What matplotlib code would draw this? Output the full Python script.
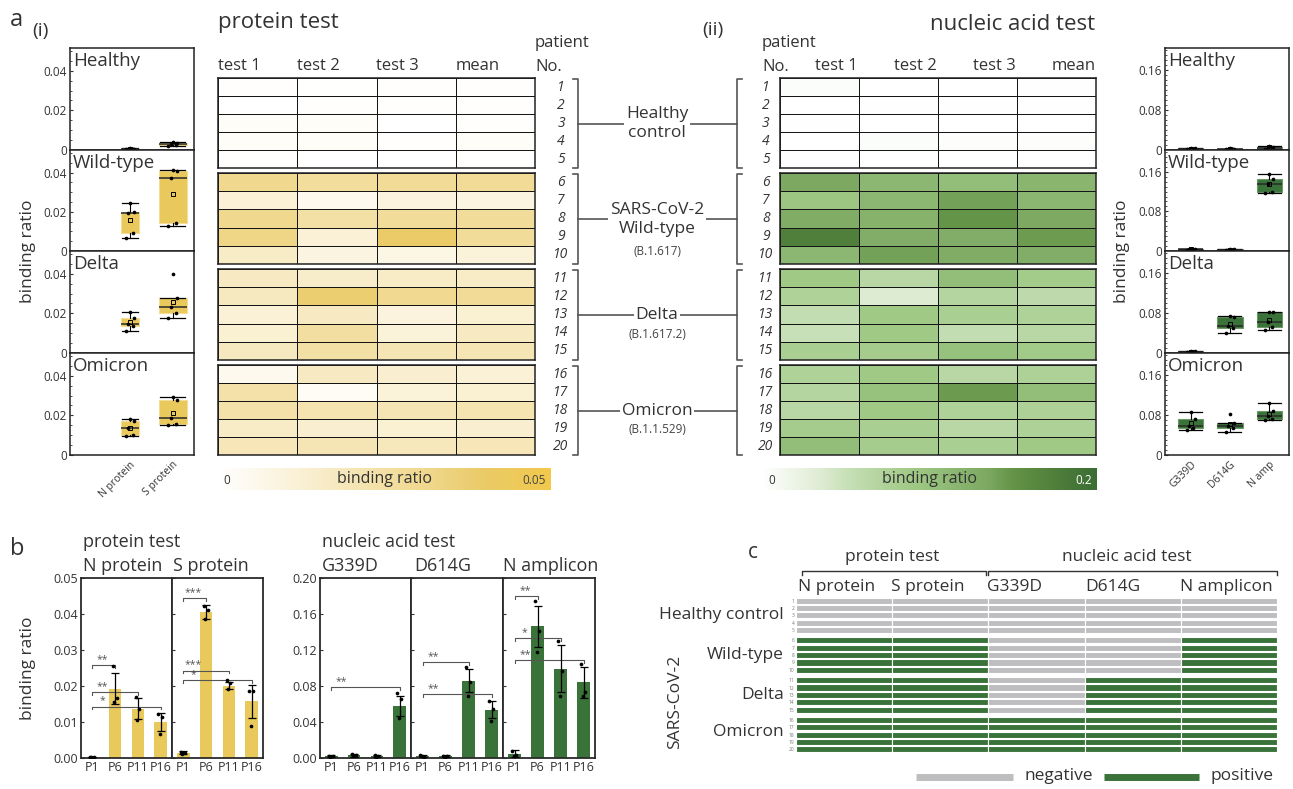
import numpy as np
import matplotlib
matplotlib.use("Agg")
import matplotlib.pyplot as plt
from matplotlib.colors import LinearSegmentedColormap
from matplotlib.ticker import MultipleLocator

plt.rcParams["font.family"] = ["Open Sans", "DejaVu Sans"]
plt.rcParams["text.color"] = "#333333"
plt.rcParams["xtick.color"] = "#333333"
plt.rcParams["ytick.color"] = "#333333"

# ---------------- data ----------------
groups = ["Healthy", "Wild-type", "Delta", "Omicron"]
protein_targets = ["N protein", "S protein"]
nucleic_targets = ["G339D", "D614G", "N amp"]

# a(i) protein test, 5 patients per group
prot_N = [[0.0003, 0.0005, 0.0006, 0.0004, 0.0008],
          [0.0068, 0.0092, 0.0193, 0.0201, 0.0245],
          [0.0110, 0.0138, 0.0146, 0.0176, 0.0208],
          [0.0098, 0.0100, 0.0134, 0.0170, 0.0184]]
prot_S = [[0.0018, 0.0025, 0.0030, 0.0035, 0.0038],
          [0.0125, 0.0142, 0.0372, 0.0410, 0.0413],
          [0.0179, 0.0203, 0.0231, 0.0280, 0.0400],
          [0.0151, 0.0155, 0.0185, 0.0279, 0.0295]]
# a(ii) nucleic acid test
nuc_G339D = [[0.002, 0.0025, 0.003, 0.0035, 0.004],
             [0.002, 0.003, 0.0035, 0.004, 0.005],
             [0.002, 0.0025, 0.003, 0.0035, 0.004],
             [0.050, 0.054, 0.058, 0.073, 0.087]]
nuc_D614G = [[0.002, 0.0025, 0.003, 0.003, 0.004],
             [0.002, 0.0025, 0.003, 0.0035, 0.004],
             [0.040, 0.050, 0.054, 0.072, 0.075],
             [0.047, 0.055, 0.058, 0.064, 0.083]]
nuc_Namp = [[0.003, 0.004, 0.005, 0.006, 0.008],
            [0.118, 0.120, 0.135, 0.146, 0.156],
            [0.046, 0.053, 0.063, 0.082, 0.082],
            [0.071, 0.073, 0.079, 0.088, 0.104]]

heat_cols = ["test 1", "test 2", "test 3", "mean"]
patients = list(range(1, 21))
protein_heat = [
    [0.001, 0.0005, 0.001, 0.001], [0.0, 0.001, 0.001, 0.001],
    [0.002, 0.002, 0.0, 0.001], [0.002, 0.002, 0.001, 0.002],
    [0.001, 0.0, 0.0, 0.0005],
    [0.031, 0.027, 0.029, 0.029], [0.012, 0.005, 0.010, 0.009],
    [0.031, 0.025, 0.028, 0.028], [0.033, 0.012, 0.040, 0.028],
    [0.016, 0.009, 0.008, 0.011],
    [0.017, 0.015, 0.016, 0.016], [0.018, 0.038, 0.030, 0.029],
    [0.012, 0.017, 0.010, 0.013], [0.013, 0.026, 0.011, 0.017],
    [0.018, 0.025, 0.021, 0.021],
    [0.005, 0.017, 0.014, 0.012], [0.024, 0.003, 0.011, 0.013],
    [0.024, 0.022, 0.021, 0.022], [0.016, 0.014, 0.013, 0.014],
    [0.020, 0.021, 0.019, 0.020]]
nucleic_heat = [
    [0.004, 0.001, 0.0, 0.002], [0.0, 0.002, 0.002, 0.002],
    [0.002, 0.0, 0.0, 0.001], [0.0, 0.004, 0.003, 0.003],
    [0.002, 0.0, 0.0, 0.001],
    [0.135, 0.115, 0.105, 0.118], [0.095, 0.115, 0.140, 0.117],
    [0.130, 0.122, 0.150, 0.134], [0.175, 0.128, 0.128, 0.144],
    [0.115, 0.140, 0.130, 0.128],
    [0.090, 0.065, 0.105, 0.087], [0.075, 0.035, 0.070, 0.060],
    [0.055, 0.090, 0.080, 0.075], [0.050, 0.090, 0.055, 0.065],
    [0.080, 0.085, 0.100, 0.088],
    [0.075, 0.090, 0.065, 0.077], [0.070, 0.100, 0.145, 0.105],
    [0.065, 0.090, 0.075, 0.077], [0.085, 0.080, 0.065, 0.077],
    [0.105, 0.085, 0.080, 0.090]]
group_names = ["Healthy\ncontrol", "SARS-CoV-2\nWild-type", "Delta", "Omicron"]
group_strains = ["", "(B.1.617)", "(B.1.617.2)", "(B.1.1.529)"]

# b: bar charts, patients P1, P6, P11, P16
bar_labels = ["P1", "P6", "P11", "P16"]
bN_mean = [0.0002, 0.0193, 0.0137, 0.0101]
bN_err = [0.0, 0.0044, 0.0029, 0.0025]
bN_pts = [[0.0002, 0.0002, 0.0002], [0.0256, 0.0166, 0.0156],
          [0.0169, 0.0136, 0.0106], [0.0122, 0.0115, 0.0066]]
bN_sig = [(0, 1, 0.0257, "**"), (0, 2, 0.0182, "**"), (0, 3, 0.0143, "*")]
bS_mean = [0.0015, 0.0406, 0.0201, 0.0157]
bS_err = [0.0004, 0.0019, 0.0010, 0.0046]
bS_pts = [[0.0017, 0.0015, 0.0012], [0.0423, 0.0412, 0.0386],
          [0.0217, 0.0209, 0.0191], [0.0187, 0.0186, 0.0090]]
bS_sig = [(0, 1, 0.0444, "***"), (0, 2, 0.0243, "***"), (0, 3, 0.0217, "*")]
bG_mean = [0.002, 0.003, 0.002, 0.058]
bG_err = [0.0008, 0.0015, 0.001, 0.011]
bG_pts = [[0.002, 0.0025, 0.0015], [0.004, 0.003, 0.002],
          [0.003, 0.002, 0.0015], [0.072, 0.066, 0.044]]
bG_sig = [(0, 3, 0.079, "**")]
bD_mean = [0.002, 0.002, 0.086, 0.0537]
bD_err = [0.0008, 0.0008, 0.013, 0.0095]
bD_pts = [[0.003, 0.0015, 0.002], [0.0025, 0.002, 0.0015],
          [0.1007, 0.084, 0.069], [0.0633, 0.0548, 0.0415]]
bD_sig = [(0, 2, 0.1067, "**"), (0, 3, 0.0711, "**")]
bA_mean = [0.0048, 0.1463, 0.0993, 0.084]
bA_err = [0.004, 0.023, 0.026, 0.017]
bA_pts = [[0.008, 0.003, 0.002], [0.175, 0.141, 0.118],
          [0.1296, 0.0963, 0.0685], [0.105, 0.073, 0.0685]]
bA_sig = [(0, 1, 0.1796, "**"), (0, 2, 0.1333, "*"), (0, 3, 0.1085, "**")]

# c: positive (1) / negative (0) calls
c_cols = ["N protein", "S protein", "G339D", "D614G", "N amplicon"]
c_result = ([[0, 0, 0, 0, 0]] * 5 + [[1, 1, 0, 0, 1]] * 5 +
            [[1, 1, 0, 1, 1]] * 5 + [[1, 1, 1, 1, 1]] * 5)
c_groups = ["Healthy control", "Wild-type", "Delta", "Omicron"]

# ---------------- style ----------------
YEL = "#E9C85C"
GRN = "#3A7339"
GREY = "#BEBEC0"
cmap_y = LinearSegmentedColormap.from_list(
    "yel", [(0, "#FFFFFF"), (0.24, "#FAF1D6"), (0.62, "#F0D88E"),
            (0.8, "#EACB68"), (1.0, "#F2C94C")])
cmap_g = LinearSegmentedColormap.from_list(
    "grn", [(0, "#FFFFFF"), (0.175, "#DDEBD2"), (0.25, "#C8E0B8"),
            (0.45, "#A0C985"), (0.55, "#8FBB76"), (0.675, "#7DA862"),
            (0.75, "#649447"), (0.875, "#4F7F3A"), (1.0, "#3B6E34")])

W, H = 1293, 789
fig = plt.figure(figsize=(W / 100, H / 100), dpi=100)


def rect(x0, y0, x1, y1):
    return [x0 / W, 1 - y1 / H, (x1 - x0) / W, (y1 - y0) / H]


jit = np.array([-0.1, 0.07, -0.04, 0.1, 0.0])


def box_panel(ax, series, pos, widths, face, edge, ymax, ticks, tlabels, minor):
    ax.boxplot(series, positions=pos, widths=widths, patch_artist=True,
               showfliers=False, showmeans=True, capwidths=[w * 0.9 for w in widths],
               boxprops=dict(facecolor=face, edgecolor=edge, lw=0.8),
               medianprops=dict(color="#2a2a2a", lw=1.1),
               whiskerprops=dict(color="k", lw=0.8),
               capprops=dict(color="k", lw=0.9),
               meanprops=dict(marker="s", mfc="none", mec="k", ms=3, mew=0.7))
    for p, vals in zip(pos, series):
        ax.scatter(p + jit[:len(vals)], vals, s=7, c="k", lw=0, zorder=4)
    ax.set_ylim(0, ymax)
    ax.set_yticks(ticks, tlabels, fontsize=8.5)
    ax.yaxis.set_minor_locator(MultipleLocator(minor))
    ax.tick_params(axis="y", which="both", direction="in", length=2.5, pad=2)
    ax.tick_params(axis="y", which="minor", length=1.5)
    for s in ax.spines.values():
        s.set_color("#222222")
        s.set_linewidth(1.1)


# ---- a(i) / a(ii) box plots ----
edges = [48, 150, 251, 353, 455]
for g in range(4):
    ax = fig.add_axes(rect(70, edges[g], 194, edges[g + 1]))
    box_panel(ax, [prot_N[g], prot_S[g]], [2, 3], [0.42, 0.65], YEL, "#F4DE94",
              0.0515, [0, 0.02, 0.04], ["0", "0.02", "0.04"], 0.005)
    ax.set_xlim(0.6, 3.5)
    ax.text(0.025, 0.96, groups[g], transform=ax.transAxes, va="top", fontsize=13.5)
    if g == 3:
        ax.set_xticks([2, 3], protein_targets, rotation=45, ha="right",
                      rotation_mode="anchor", fontsize=7.5)
        ax.tick_params(axis="x", length=0, pad=3)
    else:
        ax.set_xticks([])

    ax = fig.add_axes(rect(1165, edges[g], 1289, edges[g + 1]))
    box_panel(ax, [nuc_G339D[g], nuc_D614G[g], nuc_Namp[g]], [1, 2, 3],
              [0.65, 0.65, 0.65], GRN, "#6C9868",
              0.204, [0, 0.08, 0.16], ["0", "0.08", "0.16"], 0.01)
    ax.set_xlim(0.35, 3.5)
    ax.text(0.025, 0.96, groups[g], transform=ax.transAxes, va="top", fontsize=13.5)
    if g == 3:
        ax.set_xticks([1, 2, 3], nucleic_targets, rotation=45, ha="right",
                      rotation_mode="anchor", fontsize=7.5)
        ax.tick_params(axis="x", length=0, pad=3)
    else:
        ax.set_xticks([])

# ---- heatmaps ----
g_top = [78, 173, 269, 365]
g_bot = [168, 264, 360, 455]
for data, cmap, vmax, x0, x1 in [(protein_heat, cmap_y, 0.05, 218, 535),
                                 (nucleic_heat, cmap_g, 0.2, 780, 1096)]:
    arr = np.array(data)
    for g in range(4):
        ax = fig.add_axes(rect(x0, g_top[g], x1, g_bot[g]))
        ax.pcolormesh(arr[g * 5:(g + 1) * 5], cmap=cmap, vmin=0, vmax=vmax,
                      edgecolors="#151515", linewidth=0.7)
        ax.set_xlim(0, 4)
        ax.set_ylim(5, 0)
        ax.set_xticks([])
        ax.set_yticks([])
        for s in ax.spines.values():
            s.set_color("#222222")
            s.set_linewidth(1.1)

# colour bars
for cmap, vmax, x0, x1, lab in [(cmap_y, 0.05, 218, 551, "0.05"),
                                (cmap_g, 0.2, 763, 1097, "0.2")]:
    ax = fig.add_axes(rect(x0, 468, x1, 490))
    ax.imshow(np.linspace(0, vmax, 256)[None, :], cmap=cmap, vmin=0, vmax=vmax,
              aspect="auto", extent=(0, vmax, 0, 1))
    ax.set_axis_off()
    ax.text(0.015, 0.42, "0", transform=ax.transAxes, va="center", fontsize=8.5)
    ax.text(0.5, 0.5, "binding ratio", transform=ax.transAxes, ha="center",
            va="center", fontsize=11.5)
    ax.text(0.985, 0.42, lab, transform=ax.transAxes, ha="right", va="center",
            fontsize=8.5, color="#444444" if vmax < 0.1 else "white")

# ---- b: bar charts ----


def bar_panel(ax, means, errs, pts, color, sig, ymax, ticks, first):
    x = np.arange(len(means))
    ax.bar(x, means, 0.55, color=color, zorder=2)
    ax.errorbar(x, means, yerr=errs, fmt="none", ecolor="k", elinewidth=0.9,
                capsize=3, capthick=0.9, zorder=3)
    for xi, p in zip(x, pts):
        ax.scatter(xi + jit[:len(p)], p, s=7, c="k", lw=0, zorder=4)
    d = ymax * 0.015
    for a, b, y, lab in sig:
        ax.plot([a, a, b, b], [y - d, y, y, y - d], color="#555555", lw=0.8)
        ax.text(a + 0.45, y, lab, ha="center", va="bottom", fontsize=7.5,
                color="#555555")
    ax.set_xlim(-0.5, len(means) - 0.5)
    ax.set_ylim(0, ymax)
    ax.set_xticks(x, bar_labels, fontsize=9)
    ax.tick_params(axis="x", length=0, pad=2)
    ax.set_yticks(ticks)
    if first:
        ax.set_yticklabels([f"{t:.2f}" for t in ticks], fontsize=9)
    else:
        ax.set_yticklabels([])
    ax.tick_params(axis="y", direction="in", length=2.5, pad=2)
    for s in ax.spines.values():
        s.set_color("#2a2a2a")
        s.set_linewidth(1.3)


pticks = [0, 0.01, 0.02, 0.03, 0.04, 0.05]
nticks = [0, 0.04, 0.08, 0.12, 0.16, 0.20]
ax = fig.add_axes(rect(81, 578, 172, 758))
bar_panel(ax, bN_mean, bN_err, bN_pts, YEL, bN_sig, 0.05, pticks, True)
ax = fig.add_axes(rect(172, 578, 263, 758))
bar_panel(ax, bS_mean, bS_err, bS_pts, YEL, bS_sig, 0.05, pticks, False)
ax = fig.add_axes(rect(320, 578, 411, 758))
bar_panel(ax, bG_mean, bG_err, bG_pts, GRN, bG_sig, 0.2, nticks, True)
ax = fig.add_axes(rect(411, 578, 503, 758))
bar_panel(ax, bD_mean, bD_err, bD_pts, GRN, bD_sig, 0.2, nticks, False)
ax = fig.add_axes(rect(503, 578, 595, 758))
bar_panel(ax, bA_mean, bA_err, bA_pts, GRN, bA_sig, 0.2, nticks, False)

# ---- c: positive / negative grid ----
ax = fig.add_axes(rect(796, 597, 1277, 753))
ys = [r + 0.4 * (r // 5) for r in range(len(c_result))]
for r, row in enumerate(c_result):
    for j, v in enumerate(row):
        ax.barh(ys[r], 1, left=j, height=0.82, color=GRN if v else GREY,
                edgecolor="white", linewidth=0.8)
ax.set_xlim(0, 5)
ax.set_ylim(ys[-1] + 0.5, ys[0] - 0.5)
ax.set_xticks([])
ax.set_yticks(ys, [str(p) for p in patients], fontsize=3.5, color="#777777")
ax.tick_params(axis="y", length=0, pad=1)
for s in ax.spines.values():
    s.set_visible(False)

# ---------------- annotation layer (pixel coordinates) ----------------
ov = fig.add_axes([0, 0, 1, 1])
ov.set_xlim(0, W)
ov.set_ylim(H, 0)
ov.set_axis_off()

ov.text(10, 20, "a", fontsize=17, va="center")
ov.text(32, 31, "(i)", fontsize=14, va="center")
ov.text(702, 30, "(ii)", fontsize=14, va="center")
ov.text(10, 549, "b", fontsize=17, va="center")
ov.text(748, 552, "c", fontsize=15, va="center")

ov.text(28, 251, "binding ratio", rotation=90, ha="center", va="center", fontsize=12.5)
ov.text(1122, 251, "binding ratio", rotation=90, ha="center", va="center", fontsize=12.5)
ov.text(28, 668, "binding ratio", rotation=90, ha="center", va="center", fontsize=12.5)

ov.text(218, 22, "protein test", fontsize=16, va="center")
ov.text(1095, 24, "nucleic acid test", fontsize=16, va="center", ha="right")
for xl, name in zip([218, 297, 376, 456], heat_cols):
    ov.text(xl, 66, name, fontsize=12, va="center")
for xr, name in zip([858, 937, 1016, 1096], heat_cols):
    ov.text(xr, 66, name, fontsize=12, va="center", ha="right")
for xp in [535, 762]:
    ov.text(xp, 43, "patient", fontsize=12, va="center")
    ov.text(xp, 67, "No.", fontsize=12, va="center")

for r in range(20):
    g = r // 5
    yc = g_top[g] + (g_bot[g] - g_top[g]) * ((r % 5) + 0.5) / 5
    ov.text(561, yc, str(patients[r]), fontsize=10, style="italic", ha="center", va="center")
    ov.text(766, yc, str(patients[r]), fontsize=10, style="italic", ha="center", va="center")

for g in range(4):
    t, b = g_top[g] + 1, g_bot[g]
    yc = (t + b) / 2
    ov.plot([573, 578, 578, 573], [t, t, b, b], color="#555555", lw=1.2)
    ov.plot([742, 737, 737, 742], [t, t, b, b], color="#555555", lw=1.2)
    ov.plot([578, 737], [yc, yc], color="#555555", lw=1.2, zorder=1)
    ov.text(657, yc, group_names[g], fontsize=12.5, ha="center", va="center",
            linespacing=1.25, zorder=3,
            bbox=dict(facecolor="white", edgecolor="none", pad=1))
    if group_strains[g]:
        dy = 32 if g == 1 else 19
        ov.text(657, yc + dy, group_strains[g], fontsize=8.5, ha="center",
                va="center", color="#444444")

# b headings
ov.text(83, 542, "protein test", fontsize=13, va="center")
ov.text(83, 566, "N protein", fontsize=13, va="center")
ov.text(173, 566, "S protein", fontsize=13, va="center")
ov.text(322, 542, "nucleic acid test", fontsize=13, va="center")
for xl, name in zip([322, 414, 503], ["G339D", "D614G", "N amplicon"]):
    ov.text(xl, 566, name, fontsize=13, va="center")

# c headings and labels
ov.plot([802, 802, 986, 986], [575, 571, 571, 575], color="#333333", lw=1)
ov.plot([988, 988, 1277, 1277], [575, 571, 571, 575], color="#333333", lw=1)
ov.text(892, 557, "protein test", fontsize=12.5, ha="center", va="center")
ov.text(1127, 557, "nucleic acid test", fontsize=12.5, ha="center", va="center")
for xl, name in zip([798, 891, 987, 1085, 1180], c_cols):
    ov.text(xl, 587, name, fontsize=12.5, va="center")
for yc, name in zip([615, 655, 695, 732], c_groups):
    ov.text(784, yc, name, fontsize=12.5, ha="right", va="center")
ov.text(675, 702, "SARS-CoV-2", fontsize=12.5, rotation=90, ha="center", va="center")
ov.plot([916, 1013], [777, 777], color=GREY, lw=5, solid_capstyle="butt")
ov.text(1024, 776, "negative", fontsize=12.5, va="center")
ov.plot([1104, 1199], [777, 777], color=GRN, lw=5, solid_capstyle="butt")
ov.text(1211, 776, "positive", fontsize=12.5, va="center")

fig.savefig("out.png", dpi=100)
